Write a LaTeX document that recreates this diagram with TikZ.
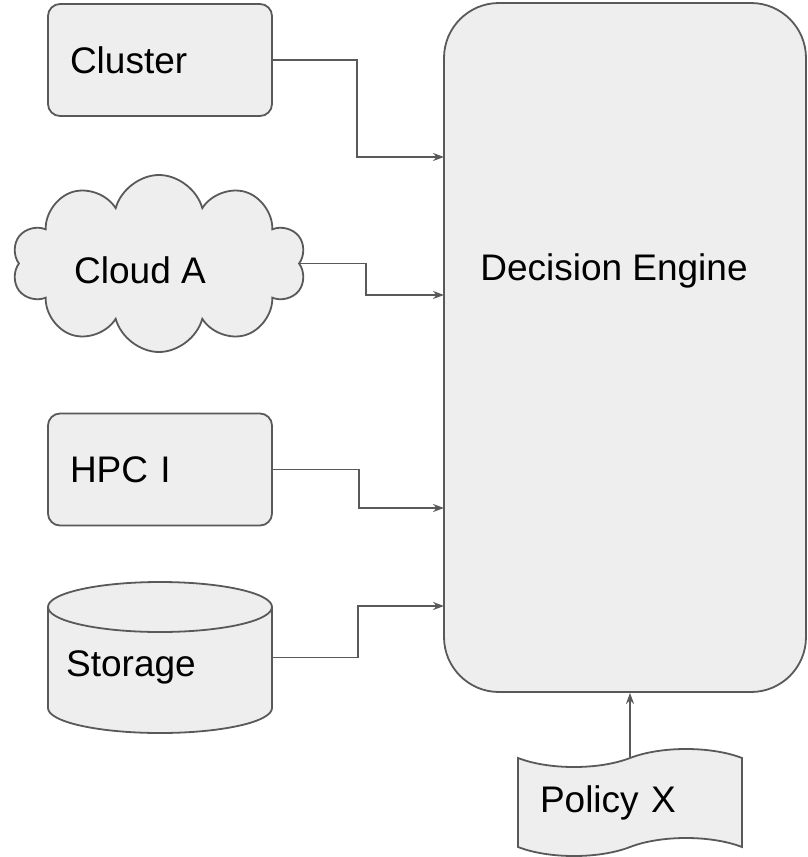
\documentclass[tikz,border=0pt]{standalone}
\usepackage{fontspec}
\setmainfont{Liberation Sans}
\usetikzlibrary{calc, arrows.meta, positioning, shapes.symbols, shapes.geometric}
\definecolor{boxfill}{HTML}{EEEEEE}
\definecolor{boxline}{HTML}{595959}
\tikzset{
    part/.style = {draw=boxline, fill=boxfill, line width=1.8pt},
    txt/.style = {font=\fontsize{37}{42}\selectfont},
    box/.style = {part, txt, rectangle, rounded corners=12pt, minimum width=224pt,
        minimum height=112pt, text width=180pt, inner xsep=22pt, align=left},
    conn/.style = {draw=boxline, line width=1.8pt, -{Stealth[length=11pt, width=8pt]}}
}
\newcommand{\drawB}[4]{
    \node[box] (#3) at (#1,#2) {#4};
}
\newcommand{\drawA}[3]{
    \draw[conn] (#1) -- ++(#2,0) |- (#3);
}

\begin{document}
\begin{tikzpicture}[x=1pt, y=-1pt]
    \useasboundingbox (0,0) rectangle (807,857);

    % Engine
        \node[part, rectangle, rounded corners=55pt, minimum width=362pt, minimum height=689pt] (engine) at (625,347.5) {};
        \node[txt] (enginetxt) at (614,271) {Decision Engine};

    % Sources
        \drawB{160}{60}{cluster}{Cluster}
        \node[part, cloud, cloud puffs=10, aspect=1.66, minimum width=294pt, minimum height=177pt] (cloud) at (159,263.5) {};
        \node[txt] (cloudtxt) at (140,270) {Cloud A};
        \drawB{160}{469.5}{hpc}{HPC I}
        % storage drum
        \node[minimum width=224pt, minimum height=151pt] (storage) at (160,657.5) {};
        \draw[part] (48,607) -- (48,708) arc[start angle=180, end angle=0, x radius=112, y radius=25]
            -- (272,607) arc[start angle=0, end angle=-180, x radius=112, y radius=25] -- cycle;
        \draw[part, fill=none] (48,607) arc[start angle=180, end angle=0, x radius=112, y radius=25];
        \node[txt] (storagetxt) at (131,667) {Storage};

    % Policy
        \node[part, txt, tape, tape bend top=in and out, tape bend bottom=in and out, tape bend height=18pt,
            minimum width=224pt, minimum height=107pt, text width=180pt, inner xsep=22pt, align=left] (policy) at (630,802.5) {Policy X};

    % Ends
        \coordinate (in1) at (444,157);
        \coordinate (in2) at (444,295);
        \coordinate (in3) at (444,508);
        \coordinate (in4) at (444,606);

    % Connectors
        \drawA{cluster.east}{84}{in1}
        \drawA{cloud.east}{66}{in2}
        \drawA{hpc.east}{86}{in3}
        \drawA{storage.east}{86}{in4}
        \draw[conn] (policy.north) -- (policy.north |- engine.south);
\end{tikzpicture}
\end{document}
